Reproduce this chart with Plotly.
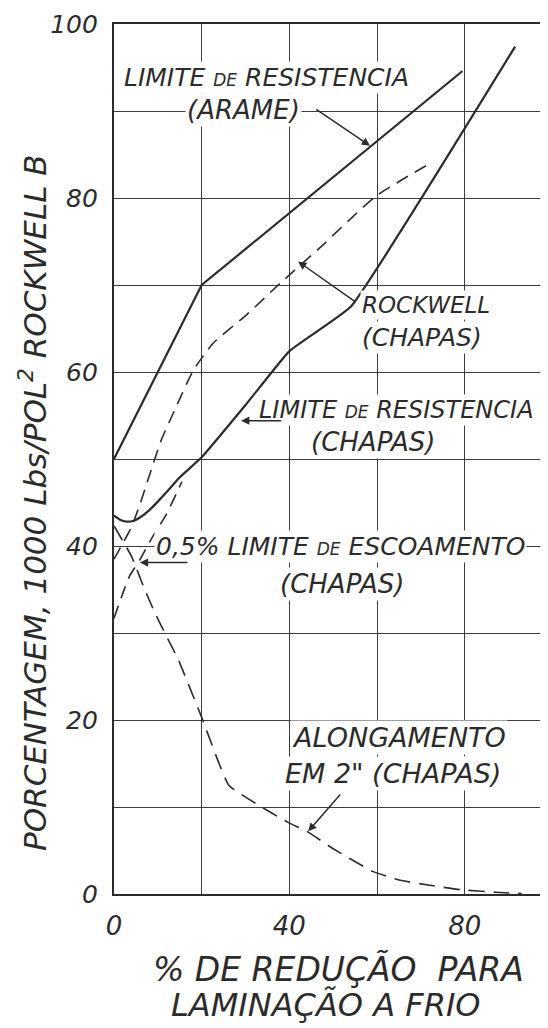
import plotly.graph_objects as go

# ---------------- data ----------------
# Limite de resistencia (arame) - solid
arame_x = [0, 20, 79.5]
arame_y = [50, 70, 94.6]

# Limite de resistencia (chapas) - solid
chapas_x = [0, 1.5, 3, 4.5, 6, 8, 10, 12, 15, 20, 30, 40, 54, 91.5]
chapas_y = [43.5, 43.0, 42.8, 42.9, 43.3, 44.1, 45.1, 46.2, 47.9, 50.2, 56.2, 62.4, 67.5, 97.4]

# Rockwell B (chapas) - dashed
rock_x = [0, 2, 4, 6, 8, 10.8, 14, 18.1, 22.6, 30.3, 37.9, 47, 59.7, 72.2]
rock_y = [38.5, 40.3, 42.2, 44.9, 48.0, 52.2, 55.8, 60.2, 63.3, 66.6, 70.2, 74.3, 80.2, 84.0]

# 0,5% limite de escoamento (chapas) - dashed
yield_x = [0, 2.4, 3.6, 5.9, 8.5, 11.9, 15.5]
yield_y = [31.7, 35.1, 36.6, 38.4, 40.8, 43.6, 47.4]

# Alongamento em 2" (chapas) - dashed
along_x = [0, 4, 7, 9.35, 11.6, 14.7, 20, 26.2, 33, 39.8, 44, 50, 59, 65, 72, 79, 87, 93]
along_y = [42.3, 38.8, 35.0, 32.3, 30.0, 26.9, 20.3, 12.5, 10.2, 8.2, 7.2, 5.2, 2.6, 1.6, 1.0, 0.5, 0.2, 0.05]

x_tickvals = [0, 40, 80]
x_ticktext = ["0", "40", "80"]
y_tickvals = [0, 20, 40, 60, 80, 100]
y_ticktext = ["0", "20", "40", "60", "80", "100"]

INK = "#2b2b2b"
GRID = "#3c3c3c"
FONT = "DejaVu Sans"

# page body has an 8px margin -> figure is shifted by 8px; compensate
W, H = 540, 1020
ML, MT, MB = 106, 16, 134
PW, PH = W - ML, H - MT - MB


def px_to_paper(px, py):
    """pixel position in the 548x1028 window -> paper coords"""
    return (px - 8 - ML) / PW, (H - MB - (py - 8)) / PH


fig = go.Figure()

fig.add_trace(go.Scatter(x=arame_x, y=arame_y, mode="lines",
                         line=dict(color=INK, width=2.2), showlegend=False))
fig.add_trace(go.Scatter(x=chapas_x, y=chapas_y, mode="lines",
                         line=dict(color=INK, width=2.2, shape="spline", smoothing=0.3),
                         showlegend=False))
fig.add_trace(go.Scatter(x=rock_x, y=rock_y, mode="lines",
                         line=dict(color=INK, width=1.6, dash="13px,8px", shape="spline", smoothing=0.5),
                         showlegend=False))
fig.add_trace(go.Scatter(x=yield_x, y=yield_y, mode="lines",
                         line=dict(color=INK, width=1.6, dash="13px,8px", shape="spline", smoothing=0.5),
                         showlegend=False))
fig.add_trace(go.Scatter(x=along_x, y=along_y, mode="lines",
                         line=dict(color=INK, width=1.6, dash="16px,9px", shape="spline", smoothing=0.4),
                         showlegend=False))

small_de = "<span style='font-size:17px'>DE</span>"
labels = [
    (f"LIMITE {small_de} RESISTENCIA", 1.8, 93.9, 25),
    ("(ARAME)", 16.2, 90.1, 26),
    ("ROCKWELL", 56.2, 67.7, 23),
    ("(CHAPAS)", 56.2, 64.0, 25),
    (f"LIMITE {small_de} RESISTENCIA", 32.6, 55.6, 24),
    ("(CHAPAS)", 44.5, 52.0, 26),
    (f"0,5% LIMITE {small_de} ESCOAMENTO", 9.1, 39.9, 25),
    ("(CHAPAS)", 37.4, 35.6, 26),
    ("ALONGAMENTO", 40.1, 18.0, 27),
    ("EM 2\" (CHAPAS)", 38.5, 13.8, 27),
]
for txt, lx, ly, fs in labels:
    fig.add_annotation(x=lx, y=ly, xref="x", yref="y", text=txt, showarrow=False,
                       xanchor="left", yanchor="middle", bgcolor="white", borderpad=1,
                       font=dict(family=FONT, size=fs, color=INK, style="italic"))

# arrows: (tip x, tip y, tail x, tail y)
arrows = [
    (58.4, 86.0, 45.8, 90.3),
    (42.0, 72.7, 55.5, 67.9),
    (29.0, 54.4, 38.5, 54.4),
    (5.9, 38.1, 17.1, 38.1),
    (44.3, 7.2, 51.9, 11.6),
]
for tx, ty, sx, sy in arrows:
    fig.add_annotation(x=tx, y=ty, ax=sx, ay=sy, xref="x", yref="y", axref="x", ayref="y",
                       text="", showarrow=True, arrowhead=2, arrowsize=1.1, arrowwidth=1.5,
                       arrowcolor=INK)

# axis titles
tx_, ty_ = px_to_paper(33, 503)
fig.add_annotation(x=tx_, y=ty_, xref="paper", yref="paper", textangle=-90,
                   xanchor="center", yanchor="middle",
                   text="PORCENTAGEM, 1000 Lbs/POL<sup>2</sup> ROCKWELL B", showarrow=False,
                   font=dict(family=FONT, size=31, color=INK, style="italic"))
tx_, ty_ = px_to_paper(338, 969)
fig.add_annotation(x=tx_, y=ty_, xref="paper", yref="paper", xanchor="center", yanchor="middle",
                   text="% DE REDUÇÃO  PARA", showarrow=False,
                   font=dict(family=FONT, size=33, color=INK, style="italic"))
tx_, ty_ = px_to_paper(326, 1005)
fig.add_annotation(x=tx_, y=ty_, xref="paper", yref="paper", xanchor="center", yanchor="middle",
                   text="LAMINAÇÃO A FRIO", showarrow=False,
                   font=dict(family=FONT, size=32, color=INK, style="italic"))

fig.update_layout(
    width=W, height=H,
    margin=dict(l=ML, r=0, t=MT, b=MB, autoexpand=False),
    paper_bgcolor="white", plot_bgcolor="white",
    font=dict(family=FONT, color=INK, style="italic"),
    showlegend=False,
)
fig.update_xaxes(range=[0, 99], tickvals=x_tickvals, ticktext=x_ticktext,
                 showgrid=True, gridcolor=GRID, gridwidth=1.3,
                 minor=dict(tickvals=[20, 60], showgrid=True, gridcolor=GRID, gridwidth=1.3),
                 showline=True, linecolor=INK, linewidth=2.2, mirror=True,
                 ticks="", ticklabelstandoff=8, zeroline=False,
                 tickfont=dict(family=FONT, size=26, color=INK, style="italic"))
fig.update_yaxes(range=[0, 100], tickvals=y_tickvals, ticktext=y_ticktext,
                 showgrid=True, gridcolor=GRID, gridwidth=1.3,
                 minor=dict(tickvals=[10, 30, 50, 70, 90], showgrid=True, gridcolor=GRID, gridwidth=1.3),
                 showline=True, linecolor=INK, linewidth=2.2,
                 ticks="", ticklabelstandoff=9, zeroline=False,
                 tickfont=dict(family=FONT, size=25, color=INK, style="italic"))

fig.write_html("out.html")
